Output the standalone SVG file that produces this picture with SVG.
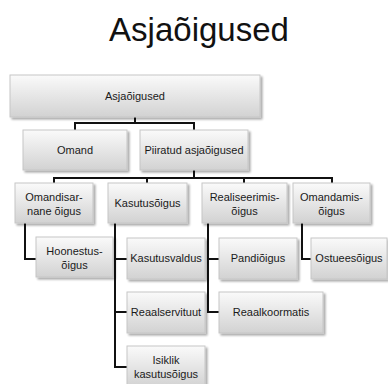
<svg xmlns="http://www.w3.org/2000/svg" width="388" height="384" viewBox="0 0 388 384">
  <defs>
    <linearGradient id="boxFill" x1="0" y1="0" x2="0" y2="1">
      <stop offset="0" stop-color="#fafafa"/>
      <stop offset="1" stop-color="#d2d2d2"/>
    </linearGradient>
    <filter id="shadow" x="-10%" y="-10%" width="125%" height="135%">
      <feGaussianBlur in="SourceAlpha" stdDeviation="1.2"/>
      <feOffset dx="1.5" dy="2" result="b"/>
      <feComponentTransfer><feFuncA type="linear" slope="0.35"/></feComponentTransfer>
      <feMerge><feMergeNode/><feMergeNode in="SourceGraphic"/></feMerge>
    </filter>
  </defs>
  <style>
    .box { fill: url(#boxFill); stroke: #c6c6c6; stroke-width: 1; filter: url(#shadow); }
    .lbl { font-family: "Liberation Sans", Arial, sans-serif; font-size: 11px; fill: #1a1a1a; text-anchor: middle; }
    .title { font-family: "Liberation Sans", Arial, sans-serif; font-size: 33px; fill: #111; text-anchor: middle; }
    .conn { fill: none; stroke: #111; stroke-width: 2; }
  </style>

  <text class="title" x="199" y="41">Asjaõigused</text>

  <g id="connectors">
    <path class="conn" d="M135,117 V123 M75,130 V123 H194 V130"/>
    <path class="conn" d="M194,170 V178 M54,183 V178 H332 V183 M147,178 V183 M244,178 V183"/>
    <path class="conn" d="M25,223 V259 H36"/>
    <path class="conn" d="M115,223 V367 H127 M115,259 H127 M115,312 H127"/>
    <path class="conn" d="M208,223 V312 H219 M208,259 H219"/>
    <path class="conn" d="M302,223 V259 H311"/>
  </g>

  <g id="root">
    <rect class="box" x="10" y="75" width="250" height="42"/>
    <text class="lbl" x="135" y="100">Asjaõigused</text>
  </g>
  <g id="omand">
    <rect class="box" x="23" y="130" width="104" height="40"/>
    <text class="lbl" x="75" y="154">Omand</text>
  </g>
  <g id="piiratud">
    <rect class="box" x="140" y="130" width="108" height="40"/>
    <text class="lbl" x="194" y="154">Piiratud asjaõigused</text>
  </g>
  <g id="omandisarnane">
    <rect class="box" x="15" y="183" width="78" height="40"/>
    <text class="lbl" x="54" y="201">Omandisar-</text>
    <text class="lbl" x="54" y="215">nane õigus</text>
  </g>
  <g id="kasutusoigus">
    <rect class="box" x="108" y="183" width="79" height="40"/>
    <text class="lbl" x="147.5" y="207">Kasutusõigus</text>
  </g>
  <g id="realiseerimis">
    <rect class="box" x="202" y="183" width="85" height="40"/>
    <text class="lbl" x="244.5" y="201">Realiseerimis-</text>
    <text class="lbl" x="244.5" y="215">õigus</text>
  </g>
  <g id="omandamis">
    <rect class="box" x="293" y="183" width="77" height="40"/>
    <text class="lbl" x="331.5" y="201">Omandamis-</text>
    <text class="lbl" x="331.5" y="215">õigus</text>
  </g>
  <g id="hoonestus">
    <rect class="box" x="36" y="237" width="77" height="40"/>
    <text class="lbl" x="74.5" y="255">Hoonestus-</text>
    <text class="lbl" x="74.5" y="269">õigus</text>
  </g>
  <g id="kasutusvaldus">
    <rect class="box" x="127" y="238" width="78" height="41"/>
    <text class="lbl" x="166" y="262">Kasutusvaldus</text>
  </g>
  <g id="pandioigus">
    <rect class="box" x="219" y="238" width="78" height="41"/>
    <text class="lbl" x="258" y="262">Pandiõigus</text>
  </g>
  <g id="ostueesoigus">
    <rect class="box" x="311" y="238" width="76" height="41"/>
    <text class="lbl" x="349" y="262">Ostueesõigus</text>
  </g>
  <g id="reaalservituut">
    <rect class="box" x="127" y="292" width="78" height="41"/>
    <text class="lbl" x="166" y="316">Reaalservituut</text>
  </g>
  <g id="reaalkoormatis">
    <rect class="box" x="219" y="292" width="104" height="41"/>
    <text class="lbl" x="271" y="316">Reaalkoormatis</text>
  </g>
  <g id="isiklik">
    <rect class="box" x="127" y="346" width="78" height="41"/>
    <text class="lbl" x="166" y="364">Isiklik</text>
    <text class="lbl" x="166" y="378">kasutusõigus</text>
  </g>
</svg>
